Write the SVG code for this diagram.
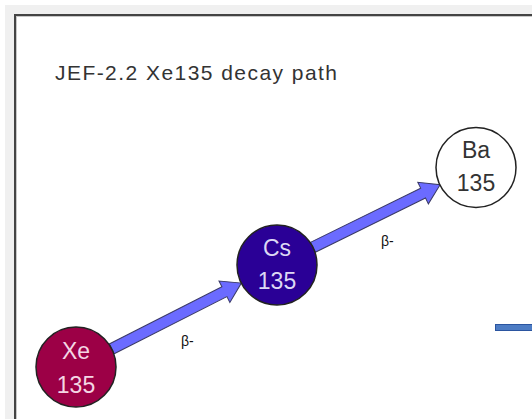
<svg xmlns="http://www.w3.org/2000/svg" width="532" height="419" viewBox="0 0 532 419">
  <style>
    .node circle { stroke: #222; stroke-width: 1.5; }
    .node text { font-family: "Liberation Sans", Arial, sans-serif; font-size: 23px; text-anchor: middle; }
    .arrow { fill: #6b6bff; stroke: #3a3a66; stroke-width: 1; }
    .lbl { font-family: "Liberation Sans", Arial, sans-serif; font-size: 14px; fill: #111; }
  </style>

  <!-- panel frame -->
  <rect x="0" y="0" width="532" height="419" fill="#ffffff"/>
  <rect x="5" y="5" width="540" height="430" fill="#f0f0f0"/>
  <rect x="15" y="15" width="530" height="420" fill="#ffffff" stroke="#444" stroke-width="2"/>
  <rect x="16.5" y="16.5" width="530" height="420" fill="none" stroke="#c8c8c8" stroke-width="1"/>

  <text x="55" y="80" font-family="'Liberation Sans', Arial, sans-serif" font-size="21" fill="#333" textLength="282" lengthAdjust="spacing">JEF-2.2 Xe135 decay path</text>

  <!-- decay connectors -->
  <g id="connectors">
    <polygon class="arrow" points="0,-5.5 126.4,-5.5 126.4,-12 145.4,0 126.4,12 126.4,5.5 0,5.5" transform="translate(111.7 348.9) rotate(-26.9)"/>
    <polygon class="arrow" points="0,-5.5 122.8,-5.5 122.8,-12 141.8,0 122.8,12 122.8,5.5 0,5.5" transform="translate(312.9 247.3) rotate(-26.2)"/>
    <text class="lbl" x="181" y="346">β-</text>
    <text class="lbl" x="381" y="246">β-</text>
  </g>

  <g id="xe135" class="node">
    <circle cx="76" cy="367" r="40" fill="#9c0046"/>
    <text x="76" y="359" fill="#f4d6e4">Xe</text>
    <text x="76" y="393" fill="#f4d6e4">135</text>
  </g>

  <g id="cs135" class="node">
    <circle cx="277" cy="265" r="40" fill="#2a0096"/>
    <text x="277" y="256" fill="#dcd8f4">Cs</text>
    <text x="277" y="289" fill="#dcd8f4">135</text>
  </g>

  <g id="ba135" class="node">
    <circle cx="476" cy="167.5" r="40" fill="#ffffff"/>
    <text x="476" y="158" fill="#333">Ba</text>
    <text x="476" y="191" fill="#333">135</text>
  </g>

  <!-- partial bar at right edge -->
  <rect x="495.5" y="324.5" width="40" height="6" fill="#4d7cc4" stroke="#2b55a0" stroke-width="1"/>
</svg>
